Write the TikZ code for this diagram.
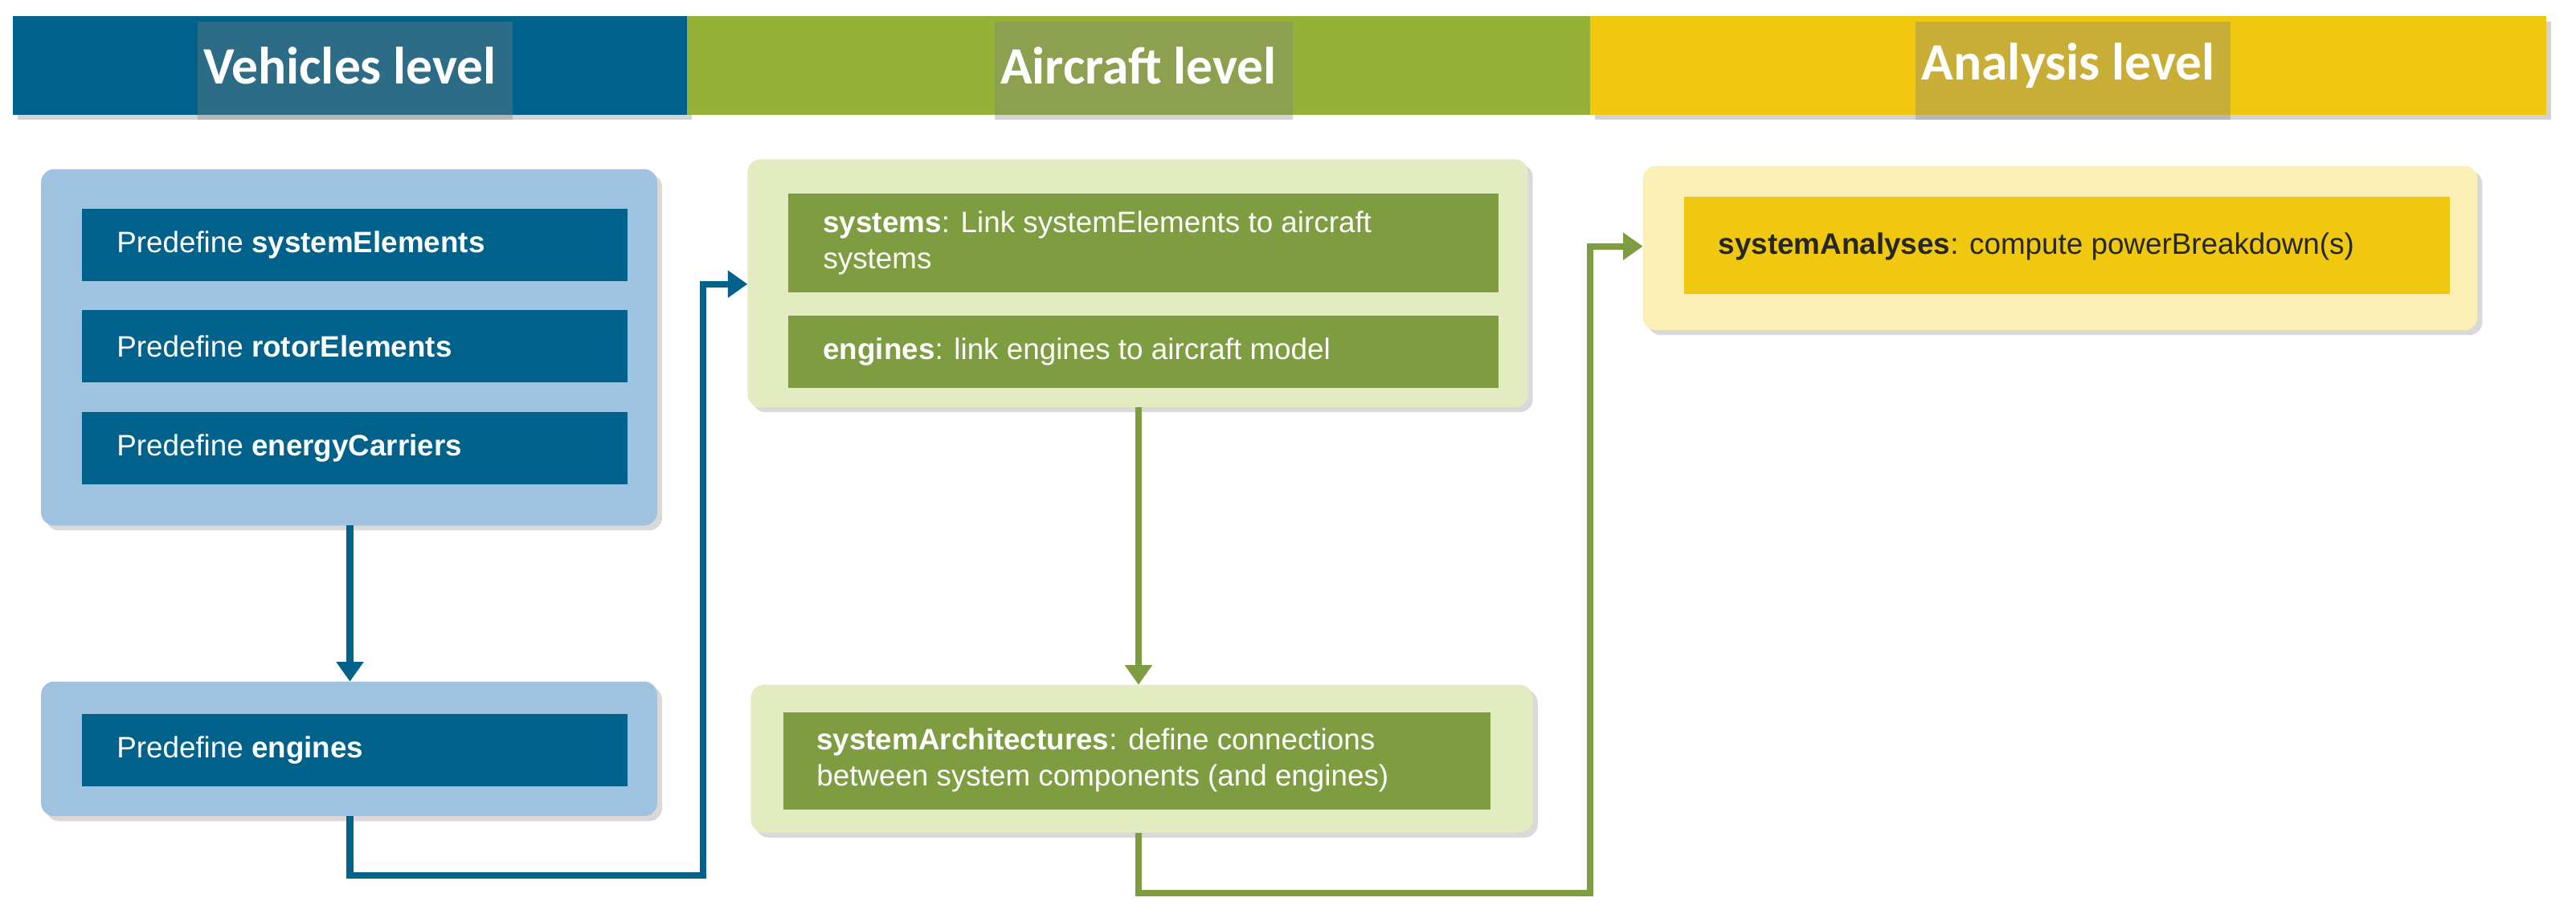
\documentclass[tikz,border=0pt]{standalone}
\usepackage{fontspec}
\setmainfont{Liberation Sans}
\newfontfamily\hdr{Carlito}
\usetikzlibrary{shadows,arrows.meta}
\definecolor{hblue}{HTML}{00628B}
\definecolor{hgreen}{HTML}{95B236}
\definecolor{hyellow}{HTML}{F0C80F}
\definecolor{pblue}{HTML}{9FC2E0}
\definecolor{pgreen}{HTML}{E2ECC0}
\definecolor{pyellow}{HTML}{FCEFB5}
\definecolor{igreen}{HTML}{7E9C40}
\begin{document}
\begin{tikzpicture}[x=0.5pt,y=-0.5pt,
 hdrbox/.style={draw=none,minimum height=30pt,font=\hdr\bfseries\fontsize{16}{18}\selectfont,text=white,drop shadow={opacity=0.35,shadow xshift=1.5pt,shadow yshift=-1.5pt}},
 panel/.style={rounded corners=4pt,drop shadow={opacity=0.3,shadow xshift=1.5pt,shadow yshift=-1.5pt}},
 inner/.style={font=\fontsize{9}{11}\selectfont,text=white,align=left,anchor=west},
 conn/.style={line width=2pt,-{Triangle[length=6pt,width=8pt]}}]
\useasboundingbox (0,0) rectangle (1568,559);
% headers
\fill[hblue,drop shadow={opacity=0.35,shadow xshift=1.5pt,shadow yshift=-1.5pt}] (8,10) rectangle (418,70);
\fill[hgreen] (418,10) rectangle (968,70);
\fill[hyellow,drop shadow={opacity=0.35,shadow xshift=1.5pt,shadow yshift=-1.5pt}] (968,10) rectangle (1550,70);
\fill[hgreen] (418,10) rectangle (968,70);
\node[hdrbox] (h1) at (213,40) {Vehicles level};
\node[hdrbox] (h2) at (693,40) {Aircraft level};
\node[hdrbox] (h3) at (1259,40) {Analysis level};
% panels
\fill[pblue,panel] (25,103) rectangle (400,320);
\fill[pblue,panel] (25,415) rectangle (400,497);
\fill[pgreen,panel] (455,97) rectangle (930,248);
\fill[pgreen,panel] (457,417) rectangle (933,507);
\fill[pyellow,panel] (1000,101) rectangle (1508,201);
\coordinate (vp1b) at (213,320);
\coordinate (vp2t) at (213,415);
\coordinate (vp2b) at (213,497);
\coordinate (gp1l) at (455,173);
\coordinate (gp1b) at (693,248);
\coordinate (gp2t) at (693,417);
\coordinate (gp2b) at (693,507);
\coordinate (yl) at (1000,150);
% inner boxes
\fill[hblue] (50,127) rectangle (382,171);
\fill[hblue] (50,189) rectangle (382,233);
\fill[hblue] (50,251) rectangle (382,295);
\fill[hblue] (50,435) rectangle (382,479);
\node[inner] (b1) at (64,149) {Predefine \textbf{systemElements}};
\node[inner] (b2) at (64,211) {Predefine \textbf{rotorElements}};
\node[inner] (b3) at (64,273) {Predefine \textbf{energyCarriers}};
\node[inner] (b4) at (64,457) {Predefine \textbf{engines}};
\fill[igreen] (480,118) rectangle (912,178);
\fill[igreen] (480,192) rectangle (912,236);
\fill[igreen] (477,434) rectangle (907,493);
\node[inner] (g1) at (494,148) {\textbf{systems}: Link systemElements to aircraft\\systems};
\node[inner] (g2) at (494,214) {\textbf{engines}: link engines to aircraft model};
\node[inner] (g3) at (490,463) {\textbf{systemArchitectures}: define connections\\between system components (and engines)};
\fill[hyellow] (1025,120) rectangle (1491,179);
\node[inner,text=black!85] (y1) at (1039,150) {\textbf{systemAnalyses}: compute powerBreakdown(s)};
% connectors
\draw[conn,hblue] (vp1b) -- (vp2t);
\draw[conn,hblue] (vp2b) -- (213,533) -- (428,533) -- (428,173) -- (gp1l);
\draw[conn,igreen] (gp1b) -- (gp2t);
\draw[conn,igreen] (gp2b) -- (693,544) -- (968,544) -- (968,150) -- (yl);
\end{tikzpicture}
\end{document}
